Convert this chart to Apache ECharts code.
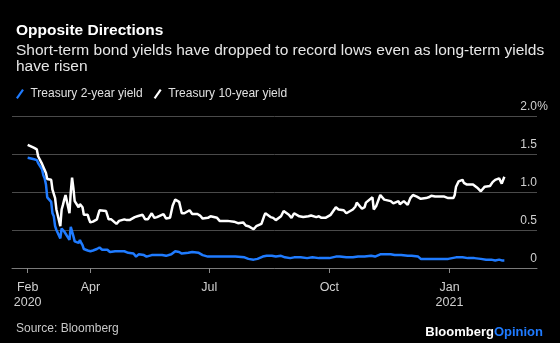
<!DOCTYPE html>
<html>
<head>
<meta charset="utf-8">
<script src="https://cdn.jsdelivr.net/npm/echarts@6/dist/echarts.min.js"></script>
<style>
html,body{margin:0;padding:0;background:#000;}
#chart{width:560px;height:343px;}
</style>
</head>
<body>
<div id="chart"></div>
<script>
// Treasury 10-year yield (%)
const dates10 = ["2020-02-13","2020-02-18","2020-02-20","2020-02-21","2020-02-24","2020-02-25","2020-02-26","2020-02-27","2020-02-28","2020-03-02","2020-03-03","2020-03-04","2020-03-05","2020-03-06","2020-03-09","2020-03-10","2020-03-11","2020-03-12","2020-03-13","2020-03-16","2020-03-17","2020-03-18","2020-03-19","2020-03-20","2020-03-23","2020-03-24","2020-03-25","2020-03-26","2020-03-27","2020-03-30","2020-03-31","2020-04-01","2020-04-03","2020-04-06","2020-04-08","2020-04-09","2020-04-13","2020-04-14","2020-04-15","2020-04-17","2020-04-21","2020-04-23","2020-04-27","2020-04-29","2020-05-01","2020-05-05","2020-05-07","2020-05-08","2020-05-11","2020-05-13","2020-05-15","2020-05-18","2020-05-20","2020-05-22","2020-05-27","2020-05-29","2020-06-01","2020-06-03","2020-06-05","2020-06-08","2020-06-10","2020-06-12","2020-06-16","2020-06-18","2020-06-22","2020-06-24","2020-06-26","2020-06-30","2020-07-02","2020-07-07","2020-07-09","2020-07-13","2020-07-15","2020-07-20","2020-07-23","2020-07-27","2020-07-29","2020-07-31","2020-08-04","2020-08-06","2020-08-10","2020-08-12","2020-08-13","2020-08-17","2020-08-19","2020-08-21","2020-08-25","2020-08-27","2020-08-31","2020-09-02","2020-09-04","2020-09-08","2020-09-11","2020-09-15","2020-09-17","2020-09-21","2020-09-23","2020-09-25","2020-09-28","2020-09-30","2020-10-02","2020-10-06","2020-10-08","2020-10-12","2020-10-14","2020-10-16","2020-10-19","2020-10-21","2020-10-22","2020-10-26","2020-10-28","2020-10-29","2020-10-30","2020-11-03","2020-11-04","2020-11-06","2020-11-09","2020-11-10","2020-11-12","2020-11-13","2020-11-17","2020-11-19","2020-11-20","2020-11-23","2020-11-24","2020-11-27","2020-11-30","2020-12-02","2020-12-04","2020-12-07","2020-12-10","2020-12-14","2020-12-16","2020-12-18","2020-12-21","2020-12-23","2020-12-28","2020-12-31","2021-01-04","2021-01-05","2021-01-06","2021-01-08","2021-01-11","2021-01-12","2021-01-14","2021-01-19","2021-01-20","2021-01-22","2021-01-25","2021-01-26","2021-01-28","2021-02-01","2021-02-03","2021-02-05","2021-02-08","2021-02-10","2021-02-12"];
const values10 = [1.62,1.58,1.56,1.47,1.37,1.33,1.31,1.25,1.17,1.16,1.03,1.02,0.92,0.77,0.55,0.77,0.83,0.90,0.96,0.72,1.00,1.19,1.05,0.88,0.80,0.84,0.85,0.80,0.70,0.70,0.64,0.60,0.61,0.64,0.76,0.74,0.75,0.73,0.64,0.64,0.58,0.62,0.64,0.63,0.63,0.67,0.68,0.70,0.70,0.64,0.64,0.72,0.66,0.67,0.71,0.65,0.66,0.82,0.90,0.87,0.72,0.72,0.76,0.71,0.71,0.69,0.65,0.66,0.68,0.66,0.62,0.62,0.62,0.61,0.59,0.60,0.56,0.55,0.51,0.55,0.58,0.68,0.72,0.67,0.66,0.63,0.68,0.75,0.70,0.66,0.72,0.68,0.67,0.68,0.69,0.67,0.68,0.66,0.66,0.68,0.70,0.80,0.77,0.76,0.72,0.74,0.77,0.81,0.86,0.78,0.80,0.86,0.88,0.93,0.77,0.82,0.96,0.95,0.90,0.92,0.88,0.85,0.86,0.88,0.84,0.88,0.83,0.92,0.96,0.94,0.91,0.92,0.93,0.95,0.94,0.94,0.94,0.92,0.92,0.96,1.07,1.14,1.16,1.12,1.10,1.10,1.09,1.06,1.01,1.03,1.07,1.08,1.13,1.16,1.18,1.11,1.20];

// Treasury 2-year yield (%)
const dates2 = ["2020-02-13","2020-02-18","2020-02-20","2020-02-21","2020-02-24","2020-02-25","2020-02-26","2020-02-27","2020-02-28","2020-03-02","2020-03-03","2020-03-04","2020-03-05","2020-03-06","2020-03-09","2020-03-10","2020-03-11","2020-03-12","2020-03-13","2020-03-16","2020-03-17","2020-03-18","2020-03-19","2020-03-20","2020-03-23","2020-03-24","2020-03-25","2020-03-26","2020-03-27","2020-03-30","2020-04-01","2020-04-03","2020-04-06","2020-04-08","2020-04-10","2020-04-14","2020-04-16","2020-04-20","2020-04-23","2020-04-27","2020-04-30","2020-05-04","2020-05-06","2020-05-08","2020-05-12","2020-05-14","2020-05-18","2020-05-21","2020-05-26","2020-05-29","2020-06-02","2020-06-05","2020-06-08","2020-06-10","2020-06-15","2020-06-18","2020-06-23","2020-06-26","2020-06-30","2020-07-07","2020-07-14","2020-07-21","2020-07-28","2020-07-31","2020-08-04","2020-08-07","2020-08-11","2020-08-14","2020-08-18","2020-08-21","2020-08-25","2020-08-28","2020-09-01","2020-09-04","2020-09-09","2020-09-14","2020-09-18","2020-09-23","2020-09-28","2020-10-01","2020-10-06","2020-10-09","2020-10-14","2020-10-19","2020-10-23","2020-10-28","2020-11-02","2020-11-05","2020-11-09","2020-11-12","2020-11-17","2020-11-20","2020-11-25","2020-11-30","2020-12-03","2020-12-08","2020-12-10","2020-12-15","2020-12-21","2020-12-28","2020-12-31","2021-01-06","2021-01-11","2021-01-15","2021-01-20","2021-01-25","2021-01-29","2021-02-02","2021-02-05","2021-02-08","2021-02-10","2021-02-12"];
const values2 = [1.45,1.43,1.42,1.38,1.30,1.22,1.18,1.10,0.93,0.87,0.72,0.68,0.55,0.50,0.39,0.52,0.50,0.48,0.50,0.37,0.54,0.52,0.42,0.35,0.33,0.37,0.33,0.30,0.25,0.23,0.22,0.23,0.25,0.27,0.24,0.24,0.21,0.22,0.22,0.22,0.20,0.19,0.15,0.18,0.17,0.15,0.17,0.17,0.17,0.16,0.18,0.22,0.21,0.19,0.20,0.21,0.20,0.17,0.15,0.15,0.15,0.15,0.14,0.12,0.11,0.12,0.15,0.16,0.16,0.15,0.16,0.14,0.13,0.14,0.14,0.13,0.14,0.13,0.13,0.13,0.15,0.15,0.14,0.14,0.15,0.15,0.16,0.15,0.18,0.18,0.18,0.17,0.17,0.16,0.16,0.15,0.12,0.12,0.12,0.12,0.12,0.14,0.14,0.13,0.13,0.12,0.11,0.11,0.10,0.11,0.10,0.10];

// Axis ticks / labels
const xTickDates = ["2020-02-13","2020-04-01","2020-07-01","2020-10-01","2021-01-01"];
const xTickLabels = ["Feb\n2020","Apr","Jul","Oct","Jan\n2021"];
const yTicks = [0, 0.5, 1.0, 1.5, 2.0];
const yTickLabels = ["0","0.5","1.0","1.5","2.0%"];

const seriesNames = ["Treasury 2-year yield","Treasury 10-year yield"];
const BLUE = '#1f7bff';
const FONT = '"Liberation Sans", Arial, Helvetica, sans-serif';

const ts = s => { const p = s.split('-'); return Date.UTC(+p[0], +p[1]-1, +p[2]); };
const tickTs = xTickDates.map(ts);

const chart = echarts.init(document.getElementById('chart'), null, {renderer:'canvas'});
const option = {
  backgroundColor: '#000',
  animation: false,
  textStyle: {fontFamily: FONT},
  title: [
    {text: 'Opposite Directions', left: 11, top: 17,
     textStyle: {color:'#fff', fontSize: 15.5, fontWeight:'bold', fontFamily: FONT, lineHeight: 18}},
    {text: 'Short-term bond yields have dropped to record lows even as long-term yields\nhave risen', left: 11, top: 37,
     textStyle: {color:'#e6e6e6', fontSize: 15.5, fontWeight:'normal', fontFamily: FONT, lineHeight: 16.8}},
    {text: 'Source: Bloomberg', left: 11, top: 317,
     textStyle: {color:'#c8c8c8', fontSize: 12, fontWeight:'normal', fontFamily: FONT, lineHeight: 14}},
    {text: '{a|Bloomberg}{b|Opinion}', right: 12, top: 321,
     textStyle: {rich: {
       a: {color:'#fff', fontSize: 13, fontWeight:'bold', fontFamily: FONT},
       b: {color: BLUE, fontSize: 13, fontWeight:'bold', fontFamily: FONT}
     }}}
  ],
  legend: {
    left: 11, top: 83,
    itemWidth: 9, itemHeight: 10, itemGap: 11,
    icon: 'path://M0,10 L7,0 L9,1.4 L2,11.4 Z',
    textStyle: {color:'#e0e0e0', fontSize: 12, fontFamily: FONT, padding:[0,0,0,1]},
    data: seriesNames
  },
  grid: {left: 12, right: 23, top: 116, bottom: 75, containLabel: false},
  xAxis: {
    type: 'value',
    min: ts('2020-02-01'),
    max: ts('2021-03-09'),
    axisLine: {show: true, lineStyle: {color:'#7a7a7a', width: 1}},
    axisTick: {show: true, length: 5, lineStyle: {color:'#8a8a8a'}, customValues: tickTs},
    axisLabel: {
      customValues: tickTs,
      color:'#d0d0d0', fontSize: 12.5, fontFamily: FONT, lineHeight: 15, margin: 12, align:'center',
      formatter: function (v) {
        const i = tickTs.indexOf(v);
        return i >= 0 ? xTickLabels[i] : '';
      }
    },
    splitLine: {show: false}
  },
  yAxis: {
    type: 'value',
    position: 'right',
    min: 0, max: 2, interval: 0.5,
    axisLine: {show: false},
    axisTick: {show: false},
    splitLine: {lineStyle: {color:'#4a4a4a', width: 1}},
    axisLabel: {
      inside: true,
      margin: -11,
      verticalAlign: 'bottom',
      color:'#d0d0d0', fontSize: 12, fontFamily: FONT,
      formatter: function (v) {
        const i = yTicks.findIndex(t => Math.abs(t - v) < 1e-9);
        const s = i >= 0 ? yTickLabels[i] : '';
        if (s.endsWith('%')) return '{n|' + s.slice(0, -1) + '}{p|%}';
        return '{n|' + s + '}{p| }';
      },
      rich: {
        n: {color:'#d0d0d0', fontSize: 12, fontFamily: FONT, lineHeight: 14, padding:[0,0,4,0]},
        p: {color:'#d0d0d0', fontSize: 12, fontFamily: FONT, lineHeight: 14, width: 11, align:'left', padding:[0,0,4,0]}
      }
    }
  },
  series: [
    {name: seriesNames[0], type: 'line', showSymbol: false, symbol: 'none',
     lineStyle: {color: BLUE, width: 2.5}, itemStyle: {color: BLUE},
     data: dates2.map((d, i) => [ts(d), values2[i]])},
    {name: seriesNames[1], type: 'line', showSymbol: false, symbol: 'none',
     lineStyle: {color: '#ffffff', width: 2.5}, itemStyle: {color: '#ffffff'},
     data: dates10.map((d, i) => [ts(d), values10[i]])}
  ]
};
chart.setOption(option);
</script>
</body>
</html>
